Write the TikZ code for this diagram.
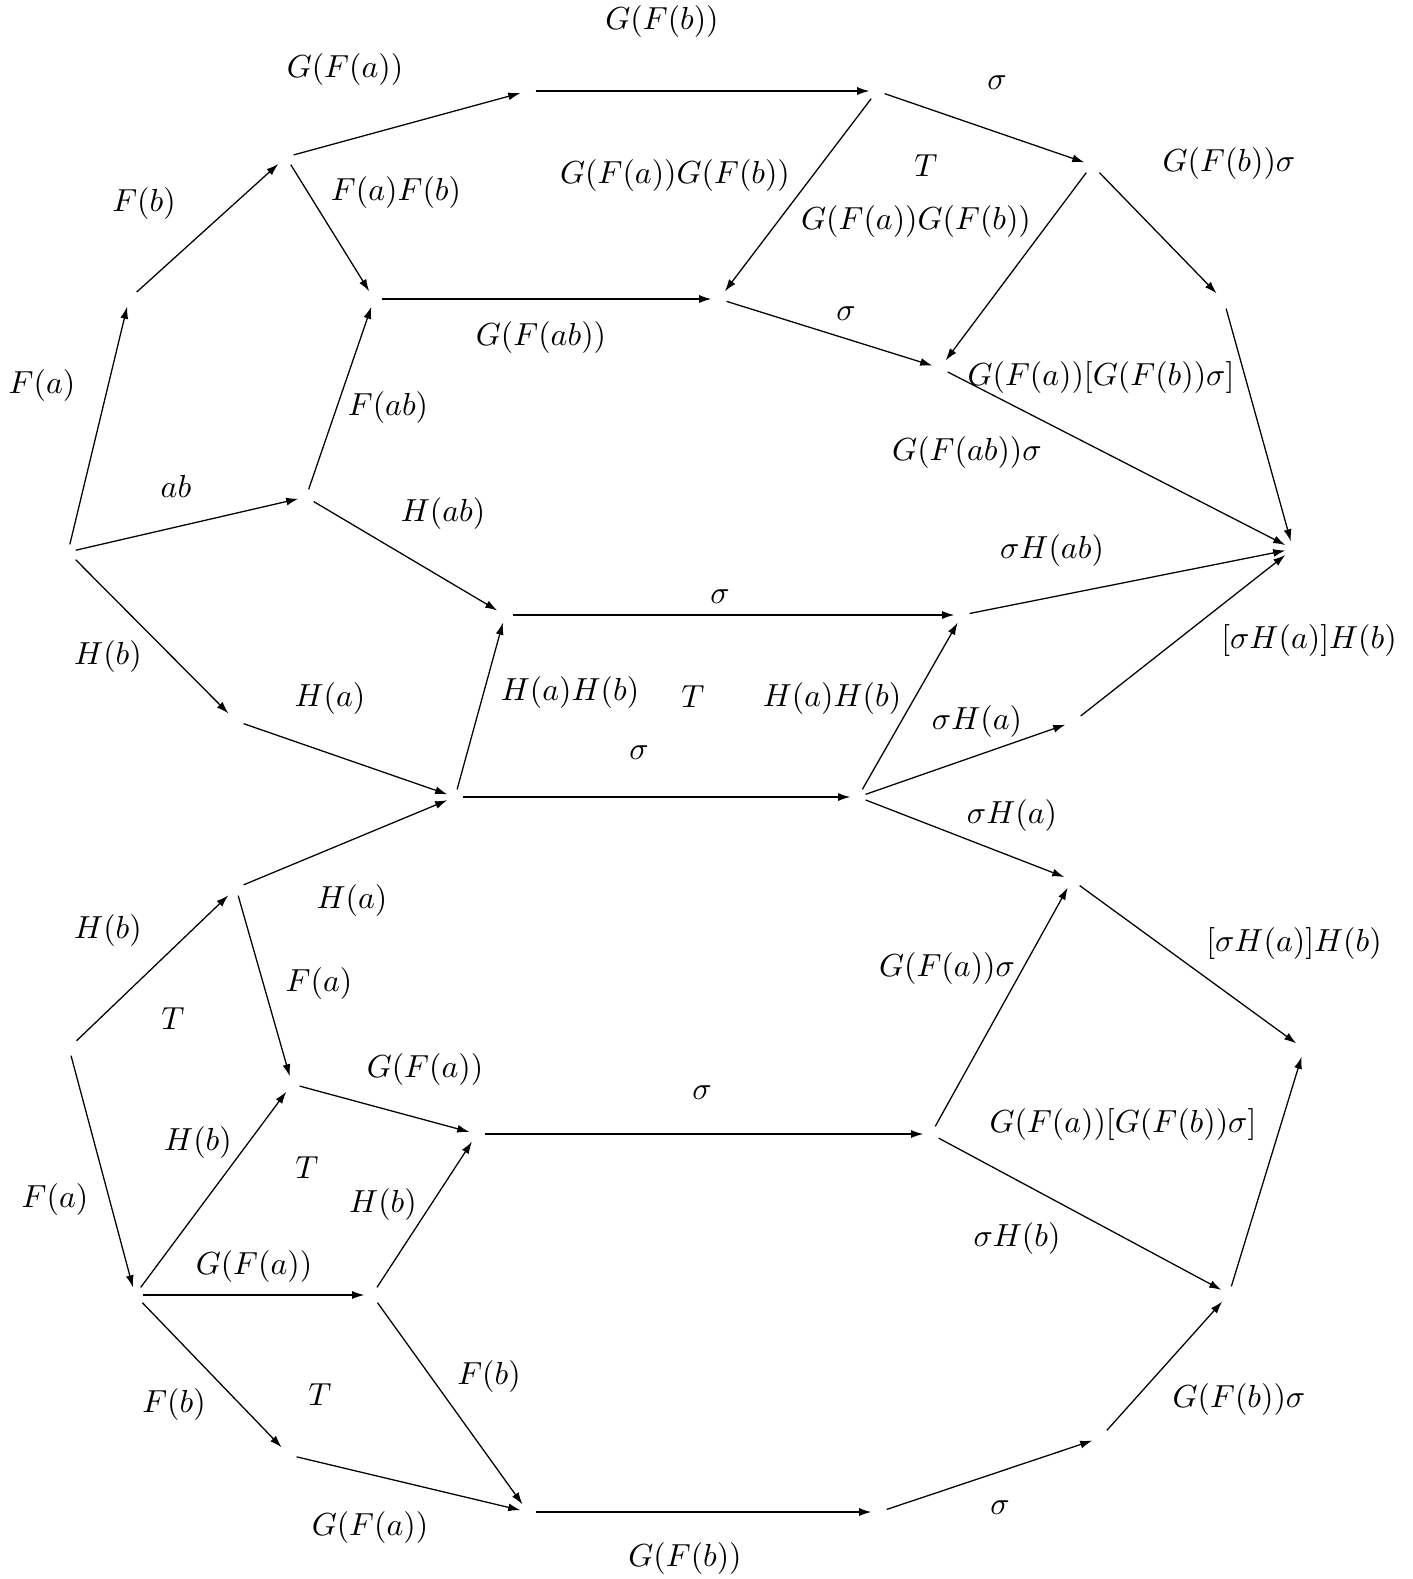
\documentclass[tikz,border=0pt]{standalone}
\usepackage{tikz}
\usetikzlibrary{arrows.meta}
\tikzset{
>={Latex[width=2.5pt,length=3.8pt]},
	vtx/.style={
		inner sep=2.2pt,
		minimum size=0pt},
	lbl/.style={
		inner sep=0pt,
		text centered}
}

\begin{document}
\begin{tikzpicture}
[x=0.3135pt, y=-0.3135pt]
\useasboundingbox (0,0) rectangle (1412,1579);
% vertices
\node[vtx] (a) at (68,552) {};
\node[vtx] (b) at (129,299) {};
\node[vtx] (c) at (286,157) {};
\node[vtx] (d) at (528,91) {};
\node[vtx] (e) at (877,91) {};
\node[vtx] (f) at (1092,165) {};
\node[vtx] (g) at (1224,301) {};
\node[vtx] (h) at (1293,549) {};
\node[vtx] (i) at (374,299) {};
\node[vtx] (j) at (719,299) {};
\node[vtx] (k) at (940,368) {};
\node[vtx] (l) at (306,497) {};
\node[vtx] (m) at (505,615) {};
\node[vtx] (n) at (962,615) {};
\node[vtx] (o) at (236,721) {};
\node[vtx] (p) at (455,797) {};
\node[vtx] (q) at (858,797) {};
\node[vtx] (r) at (1073,722) {};
\node[vtx] (s) at (1072,880) {};
\node[vtx] (u) at (1304,1049) {};
\node[vtx] (v) at (1229,1294) {};
\node[vtx] (w) at (931,1134) {};
\node[vtx] (x) at (1100,1438) {};
\node[vtx] (y) at (879,1512) {};
\node[vtx] (z) at (528,1512) {};
\node[vtx] (aa) at (289,1455) {};
\node[vtx] (bb) at (135,1295) {};
\node[vtx] (cc) at (69,1048) {};
\node[vtx] (dd) at (236,888) {};
\node[vtx] (ee) at (292,1084) {};
\node[vtx] (ff) at (477,1134) {};
\node[vtx] (gg) at (372,1295) {};
% labels
\node[lbl] (lab1) at (662,22) {$G(F(b))$};
\node[lbl] (lab2) at (345,70) {$G(F(a))$};
\node[lbl] (lab3) at (144,204) {$F(b)$};
\node[lbl] (lab4) at (42,386) {$F(a)$};
\node[lbl] (lab5) at (396,193) {$F(a)F(b)$};
\node[lbl] (lab6) at (675,176) {$G(F(a))G(F(b))$};
\node[lbl] (lab7) at (926,166) {$T$};
\node[lbl] (lab8) at (997,83) {$\sigma$};
\node[lbl] (lab9) at (1229,164) {$G(F(b))\sigma$};
\node[lbl] (lab10) at (916,222) {$G(F(a))G(F(b))$};
\node[lbl] (lab11) at (541,338) {$G(F(ab))$};
\node[lbl] (lab12) at (846,314) {$\sigma$};
\node[lbl] (lab13) at (1101,378) {$G(F(a))[G(F(b))\sigma]$};
\node[lbl] (lab14) at (388,408) {$F(ab)$};
\node[lbl] (lab15) at (176,486) {$ab$};
\node[lbl] (lab16) at (443,514) {$H(ab)$};
\node[lbl] (lab17) at (967,453) {$G(F(ab))\sigma$};
\node[lbl] (lab18) at (1052,551) {$\sigma H(ab)$};
\node[lbl] (lab19) at (720,597) {$\sigma$};
\node[lbl] (lab20) at (108,657) {$H(b)$};
\node[lbl] (lab21) at (330,699) {$H(a)$};
\node[lbl] (lab22) at (570,693) {$H(a)H(b)$};
\node[lbl] (lab23) at (693,697) {$T$};
\node[lbl] (lab24) at (832,699) {$H(a)H(b)$};
\node[lbl] (lab25) at (639,753) {$\sigma$};
\node[lbl] (lab26) at (977,722) {$\sigma H(a)$};
\node[lbl] (lab27) at (1309,641) {$[\sigma H(a)]H(b)$};
\node[lbl] (lab28) at (1012,816) {$\sigma H(a)$};
\node[lbl] (lab29) at (108,931) {$H(b)$};
\node[lbl] (lab30) at (352,901) {$H(a)$};
\node[lbl] (lab31) at (173,1019) {$T$};
\node[lbl] (lab32) at (319,984) {$F(a)$};
\node[lbl] (lab33) at (947,969) {$G(F(a))\sigma$};
\node[lbl] (lab34) at (1294,944) {$[\sigma H(a)]H(b)$};
\node[lbl] (lab35) at (425,1070) {$G(F(a))$};
\node[lbl] (lab36) at (702,1093) {$\sigma$};
\node[lbl] (lab37) at (1123,1125) {$G(F(a))[G(F(b))\sigma]$};
\node[lbl] (lab38) at (198,1143) {$H(b)$};
\node[lbl] (lab39) at (307,1168) {$T$};
\node[lbl] (lab40) at (55,1200) {$F(a)$};
\node[lbl] (lab41) at (383,1205) {$H(b)$};
\node[lbl] (lab42) at (1017,1239) {$\sigma H(b)$};
\node[lbl] (lab43) at (254,1267) {$G(F(a))$};
\node[lbl] (lab44) at (489,1377) {$F(b)$};
\node[lbl] (lab45) at (320,1395) {$T$};
\node[lbl] (lab46) at (174,1405) {$F(b)$};
\node[lbl] (lab47) at (1239,1400) {$G(F(b))\sigma$};
\node[lbl] (lab48) at (370,1528) {$G(F(a))$};
\node[lbl] (lab49) at (1000,1508) {$\sigma$};
\node[lbl] (lab50) at (685,1559) {$G(F(b))$};
% arrows
\draw[->] (a) -- (b);
\draw[->] (b) -- (c);
\draw[->] (c) -- (d);
\draw[->] (d) -- (e);
\draw[->] (e) -- (f);
\draw[->] (f) -- (g);
\draw[->] (g) -- (h);
\draw[->] (c) -- (i);
\draw[->] (i) -- (j);
\draw[->] (e) -- (j);
\draw[->] (j) -- (k);
\draw[->] (f) -- (k);
\draw[->] (k) -- (h);
\draw[->] (a) -- (l);
\draw[->] (l) -- (i);
\draw[->] (l) -- (m);
\draw[->] (m) -- (n);
\draw[->] (n) -- (h);
\draw[->] (a) -- (o);
\draw[->] (o) -- (p);
\draw[->] (p) -- (m);
\draw[->] (p) -- (q);
\draw[->] (q) -- (n);
\draw[->] (q) -- (r);
\draw[->] (r) -- (h);
\draw[->] (q) -- (s);
\draw[->] (s) -- (u);
\draw[->] (v) -- (u);
\draw[->] (w) -- (v);
\draw[->] (x) -- (v);
\draw[->] (y) -- (x);
\draw[->] (z) -- (y);
\draw[->] (aa) -- (z);
\draw[->] (bb) -- (aa);
\draw[->] (cc) -- (bb);
\draw[->] (cc) -- (dd);
\draw[->] (dd) -- (p);
\draw[->] (dd) -- (ee);
\draw[->] (ee) -- (ff);
\draw[->] (ff) -- (w);
\draw[->] (w) -- (s);
\draw[->] (bb) -- (ee);
\draw[->] (bb) -- (gg);
\draw[->] (gg) -- (ff);
\draw[->] (gg) -- (z);
\end{tikzpicture}
\end{document}
